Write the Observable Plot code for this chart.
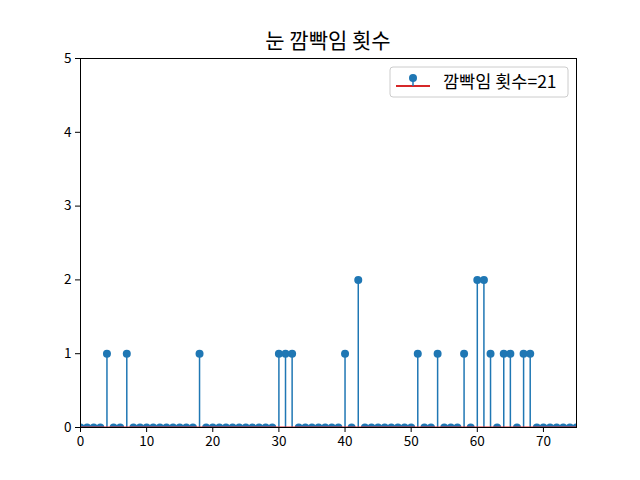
<!DOCTYPE html>
<html>
<head>
<meta charset="utf-8">
<script src="https://cdn.jsdelivr.net/npm/d3@7"></script>
<script src="https://cdn.jsdelivr.net/npm/@observablehq/plot@0.6"></script>
<style>
  body { margin: 0; background: #fff; }
  #chart { position: relative; width: 640px; height: 480px; }
  svg { font-family: "Noto Sans CJK KR", "Noto Sans", sans-serif; }
</style>
</head>
<body>
<div id="chart"></div>
<script>
// Data: blink count per frame index
const title = "눈 깜빡임 횟수";
const seriesLabel = "깜빡임 횟수";
const frameIndex = d3.range(0, 76);
const ones = [4, 7, 18, 30, 31, 32, 40, 51, 54, 58, 62, 64, 65, 67, 68];
const twos = [42, 60, 61];
const blinks = frameIndex.map(i => twos.includes(i) ? 2 : ones.includes(i) ? 1 : 0);
const xTicks = [0, 10, 20, 30, 40, 50, 60, 70];
const yTicks = [0, 1, 2, 3, 4, 5];

const data = frameIndex.map((x, i) => ({x, y: blinks[i]}));
const total = d3.sum(blinks);

const blue = "#1f77b4";
const red = "#d62728";

const plot = Plot.plot({
  width: 640,
  height: 480,
  marginLeft: 80,
  marginRight: 64,
  marginTop: 58,
  marginBottom: 53,
  style: {fontFamily: '"Noto Sans CJK KR", "Noto Sans", sans-serif', fontSize: "13.5px", color: "#000"},
  x: {domain: [0, 75], ticks: xTicks, tickFormat: d => d, label: null, tickSize: 5, tickPadding: 4},
  y: {domain: [0, 5], ticks: yTicks, tickFormat: d => d, label: null, tickSize: 5, tickPadding: 4},
  marks: [
    Plot.ruleX(data, {x: "x", y1: 0, y2: "y", stroke: blue, strokeWidth: 1.5, clip: true}),
    Plot.dot(data, {x: "x", y: "y", r: 4, fill: blue, stroke: null, clip: true}),
    Plot.ruleY([0], {stroke: red, strokeWidth: 2, clip: true}),
    Plot.frame({stroke: "#000", strokeWidth: 1})
  ]
});

document.getElementById("chart").appendChild(plot);

const svg = d3.select(plot);
// Title
svg.append("text")
  .attr("x", 328).attr("y", 48)
  .attr("text-anchor", "middle")
  .style("font-size", "21px")
  .attr("fill", "#000")
  .text(title);

// Legend
const lg = svg.append("g").attr("transform", "translate(390,67)");
lg.append("rect")
  .attr("x", 0).attr("y", 0).attr("width", 178).attr("height", 30)
  .attr("rx", 3).attr("fill", "#fff").attr("fill-opacity", 0.8)
  .attr("stroke", "#ccc").attr("stroke-width", 1);
lg.append("line")
  .attr("x1", 6).attr("x2", 40).attr("y1", 19).attr("y2", 19)
  .attr("stroke", red).attr("stroke-width", 2);
lg.append("line")
  .attr("x1", 23).attr("x2", 23).attr("y1", 19).attr("y2", 11)
  .attr("stroke", blue).attr("stroke-width", 1.5);
lg.append("circle")
  .attr("cx", 23).attr("cy", 11).attr("r", 4).attr("fill", blue);
lg.append("text")
  .attr("x", 53).attr("y", 21)
  .attr("text-anchor", "start")
  .style("font-size", "17.5px").attr("fill", "#000")
  .text(`${seriesLabel}=${total}`);
</script>
</body>
</html>
